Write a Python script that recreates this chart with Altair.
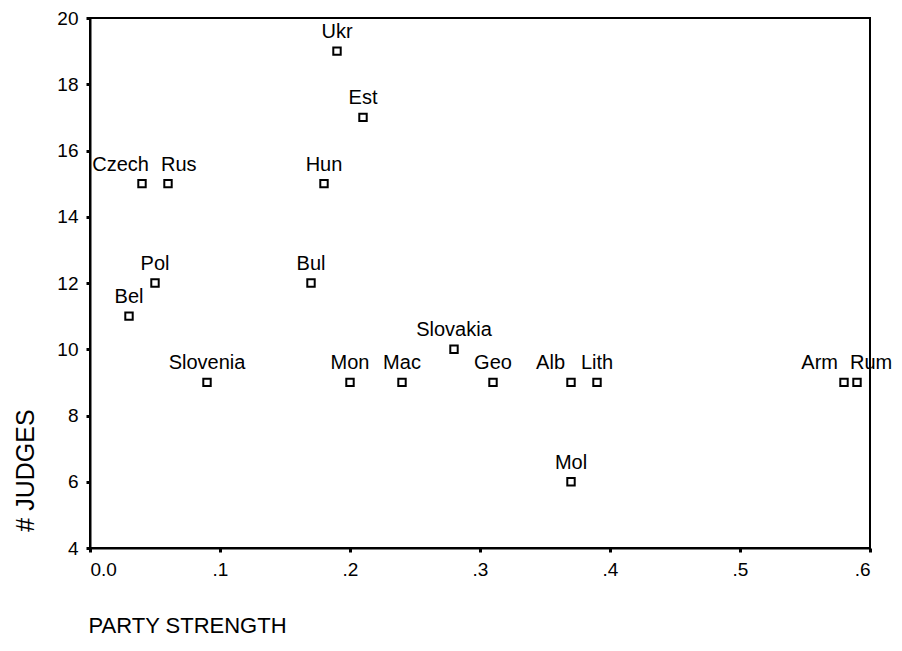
import altair as alt
import pandas as pd

countries = ["Ukr", "Est", "Czech", "Rus", "Hun", "Pol", "Bul", "Bel", "Slovenia",
             "Mon", "Mac", "Slovakia", "Geo", "Alb", "Lith", "Mol", "Arm", "Rum"]
party_strength = [0.19, 0.21, 0.04, 0.06, 0.18, 0.05, 0.17, 0.03, 0.09,
                  0.20, 0.24, 0.28, 0.31, 0.37, 0.39, 0.37, 0.58, 0.59]
judges = [19, 17, 15, 15, 15, 12, 12, 11, 9,
          9, 9, 10, 9, 9, 9, 6, 9, 9]
x_ticks = [0.0, 0.1, 0.2, 0.3, 0.4, 0.5, 0.6]
y_ticks = [4, 6, 8, 10, 12, 14, 16, 18, 20]

df = pd.DataFrame({"name": countries, "ps": party_strength, "j": judges})

FONT = "Liberation Sans"

x = alt.X("ps:Q", scale=alt.Scale(domain=[0, 0.6], nice=False, zero=False),
          axis=alt.Axis(values=x_ticks, title="PARTY STRENGTH", grid=False,
                        labelExpr="datum.value == 0 ? '0.0' : replace(format(datum.value, '.1f'), '0.', '.')",
                        domainColor="black", domainWidth=2, tickColor="black",
                        tickWidth=3, tickSize=4, labelPadding=8, labelFontSize=19,
                        labelFont=FONT, labelColor="black",
                        titleFont=FONT, titleFontSize=22, titleFontWeight="normal",
                        titleColor="black", titleAnchor="start", titleAlign="left",
                        titleX=-2, titleY=84, titleBaseline="alphabetic"))
y = alt.Y("j:Q", scale=alt.Scale(domain=[4, 20], nice=False, zero=False),
          axis=alt.Axis(values=y_ticks, title="# JUDGES", grid=False,
                        domainColor="black", domainWidth=2, tickColor="black",
                        tickWidth=3, tickSize=4, labelPadding=8, labelFontSize=19,
                        labelFont=FONT, labelColor="black",
                        titleFont=FONT, titleFontSize=25, titleFontWeight="normal",
                        titleColor="black", titleAngle=-90, titleAlign="center",
                        titleBaseline="middle", titleX=-65, titleY=452))

base = alt.Chart(df)

points = base.mark_point(shape="square", size=55, filled=False, stroke="black",
                         strokeWidth=2, opacity=1).encode(x=x, y=y)

right_far = ["Czech"]
right_near = ["Alb", "Arm"]
left_near = ["Rus", "Rum"]
special = right_far + right_near + left_near

def lbl(names, align, dx, exclude=False):
    flt = alt.FieldOneOfPredicate(field="name", oneOf=names)
    data = base.transform_filter(~flt) if exclude else base.transform_filter(flt)
    return data.mark_text(align=align, baseline="alphabetic", dx=dx, dy=-13,
                          font=FONT, fontSize=20, color="black").encode(
        x=alt.X("ps:Q"), y=alt.Y("j:Q"), text="name:N")

labels_center = lbl(special, "center", 0, exclude=True)
labels_rf = lbl(right_far, "right", 7)
labels_rn = lbl(right_near, "right", -6)
labels_ln = lbl(left_near, "left", -7)

chart = alt.layer(points, labels_center, labels_rf, labels_rn, labels_ln).properties(
    width=780, height=530,
    autosize=alt.AutoSizeParams(type="none"),
    padding={"left": 82, "top": 10, "right": 24, "bottom": 90},
).configure(background="white").configure_view(stroke="black", strokeWidth=2)

chart.save("out.html", embed_options={"renderer": "svg", "actions": False})
